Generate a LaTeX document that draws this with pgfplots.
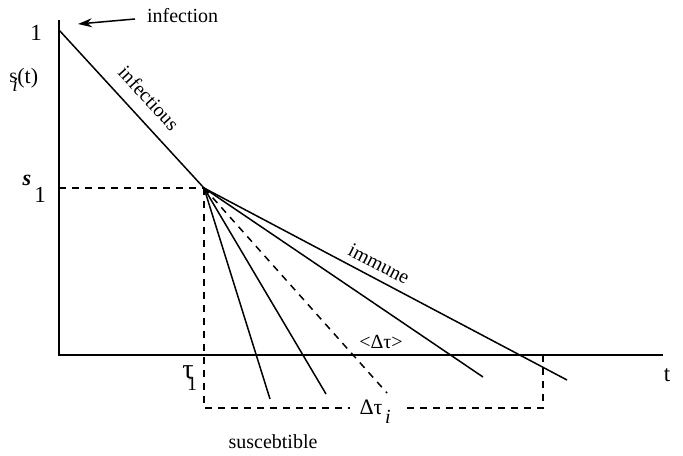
\documentclass[border=0pt]{standalone}
\usepackage{pgfplots}
\pgfplotsset{compat=1.18}
\usepackage{fontspec}
\setmainfont{Liberation Serif}
\usetikzlibrary{arrows.meta}
\begin{document}
\begin{tikzpicture}[font=\fontsize{10}{12}\selectfont]
\begin{axis}[scale only axis, width=341.5pt, height=225.5pt,
  xmin=0, xmax=683, ymin=0, ymax=451, y dir=reverse,
  hide axis, clip=false]
\addplot[draw=none] coordinates {(0,0) (683,451)};
% axes
\addplot[line width=1pt, line join=miter] coordinates {(59,20) (59,355) (663,355)};
% infectious phase
\addplot[line width=0.75pt] coordinates {(59,30) (204,188)};
% fan of lines
\addplot[line width=0.75pt] coordinates {(204,188) (270,399)};
\addplot[line width=0.75pt] coordinates {(204,188) (326,394)};
\addplot[line width=0.75pt, dash pattern=on 3.5pt off 3pt] coordinates {(204,188) (387,393)};
\addplot[line width=0.75pt] coordinates {(204,188) (483,377)};
\addplot[line width=0.75pt] coordinates {(204,188) (567,380)};
% dashed guides
\addplot[line width=0.75pt, dash pattern=on 3.5pt off 3pt] coordinates {(59,188) (204,188)};
\addplot[line width=0.75pt, dash pattern=on 3.5pt off 3pt] coordinates {(204,188) (204,408) (350,408)};
\addplot[line width=0.75pt, dash pattern=on 3.5pt off 3pt] coordinates {(407,408) (543,408) (543,355)};
% infection arrow
\addplot[line width=0.75pt, -{Stealth[length=7pt,width=4.5pt]}] coordinates {(135,19) (78,24)};
% labels
\node[anchor=west] at (axis cs:140,16) {infection};
\node[font=\fontsize{11.5}{12}\selectfont] at (axis cs:36,33) {1};
\node[anchor=base west, inner sep=0pt] at (axis cs:9,82) {s};
\node[anchor=base west, inner sep=0pt] at (axis cs:12,91) {\textit{i}};
\node[anchor=base west, inner sep=0pt, font=\fontsize{11}{12}\selectfont] at (axis cs:17,83) {(t)};
\node[font=\fontsize{11}{12}\selectfont] at (axis cs:27,180) {\textbf{\textit{s}}};
\node[font=\fontsize{11.5}{12}\selectfont] at (axis cs:40,195) {1};
\node[font=\fontsize{14}{14}\selectfont] at (axis cs:188,372) {τ};
\node at (axis cs:192,384) {1};
\node[font=\fontsize{11.5}{12}\selectfont] at (axis cs:667,375) {t};
\node[rotate=-47.5] at (axis cs:149,98) {infectious};
\node[rotate=-27] at (axis cs:379,264) {immune};
\node at (axis cs:381,342) {<Δτ>};
\node[font=\fontsize{11}{12}\selectfont] at (axis cs:371,407) {Δτ};
\node at (axis cs:388,417) {\textit{i}};
\node at (axis cs:273,442) {suscebtible};
\end{axis}
\end{tikzpicture}
\end{document}
